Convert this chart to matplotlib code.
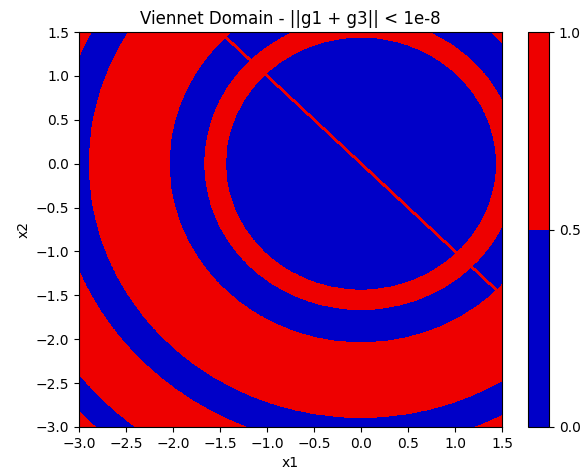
import numpy as np
import matplotlib
matplotlib.use("Agg")
import matplotlib.pyplot as plt
from matplotlib.colors import ListedColormap

# Ring boundaries (radius from origin); region value alternates
ring_radii = [1.44, 1.66, 2.04, 2.89, 3.24, 3.84, 4.12]
inner_value = 0  # blue disc at centre
line_halfwidth = 0.012  # red diagonal y = -x artifact
x_range = [-3.0, 1.5]
y_range = [-3.0, 1.5]
levels = [0.0, 0.5, 1.0]
colors = ["#0000c8", "#ee0000"]

n = 900
x = np.linspace(x_range[0], x_range[1], n)
y = np.linspace(y_range[0], y_range[1], n)
X, Y = np.meshgrid(x, y)
R = np.sqrt(X**2 + Y**2)
Z = np.full_like(R, inner_value, dtype=float)
count = np.zeros_like(R, dtype=int)
for rb in ring_radii:
    count += (R >= rb)
Z = ((inner_value + count) % 2).astype(float)
Z[np.abs(X + Y) < line_halfwidth] = 1.0

fig = plt.figure(figsize=(5.81, 4.72), dpi=100)
ax = fig.add_axes([79/581, 1-427/472, (502-79)/581, (427-32)/472])
cax = fig.add_axes([528/581, 1-427/472, 21/581, (427-32)/472])
cs = ax.contourf(X, Y, Z, levels=levels, cmap=ListedColormap(colors))
cb = fig.colorbar(cs, cax=cax)
cb.set_ticks([0.0, 0.5, 1.0])
ax.set_title("Viennet Domain - ||g1 + g3|| < 1e-8")
ax.set_xlabel("x1")
ax.set_ylabel("x2")
ax.set_xticks(np.arange(-3.0, 1.51, 0.5))
ax.set_yticks(np.arange(-3.0, 1.51, 0.5))
fig.savefig("out.png", dpi=100)
